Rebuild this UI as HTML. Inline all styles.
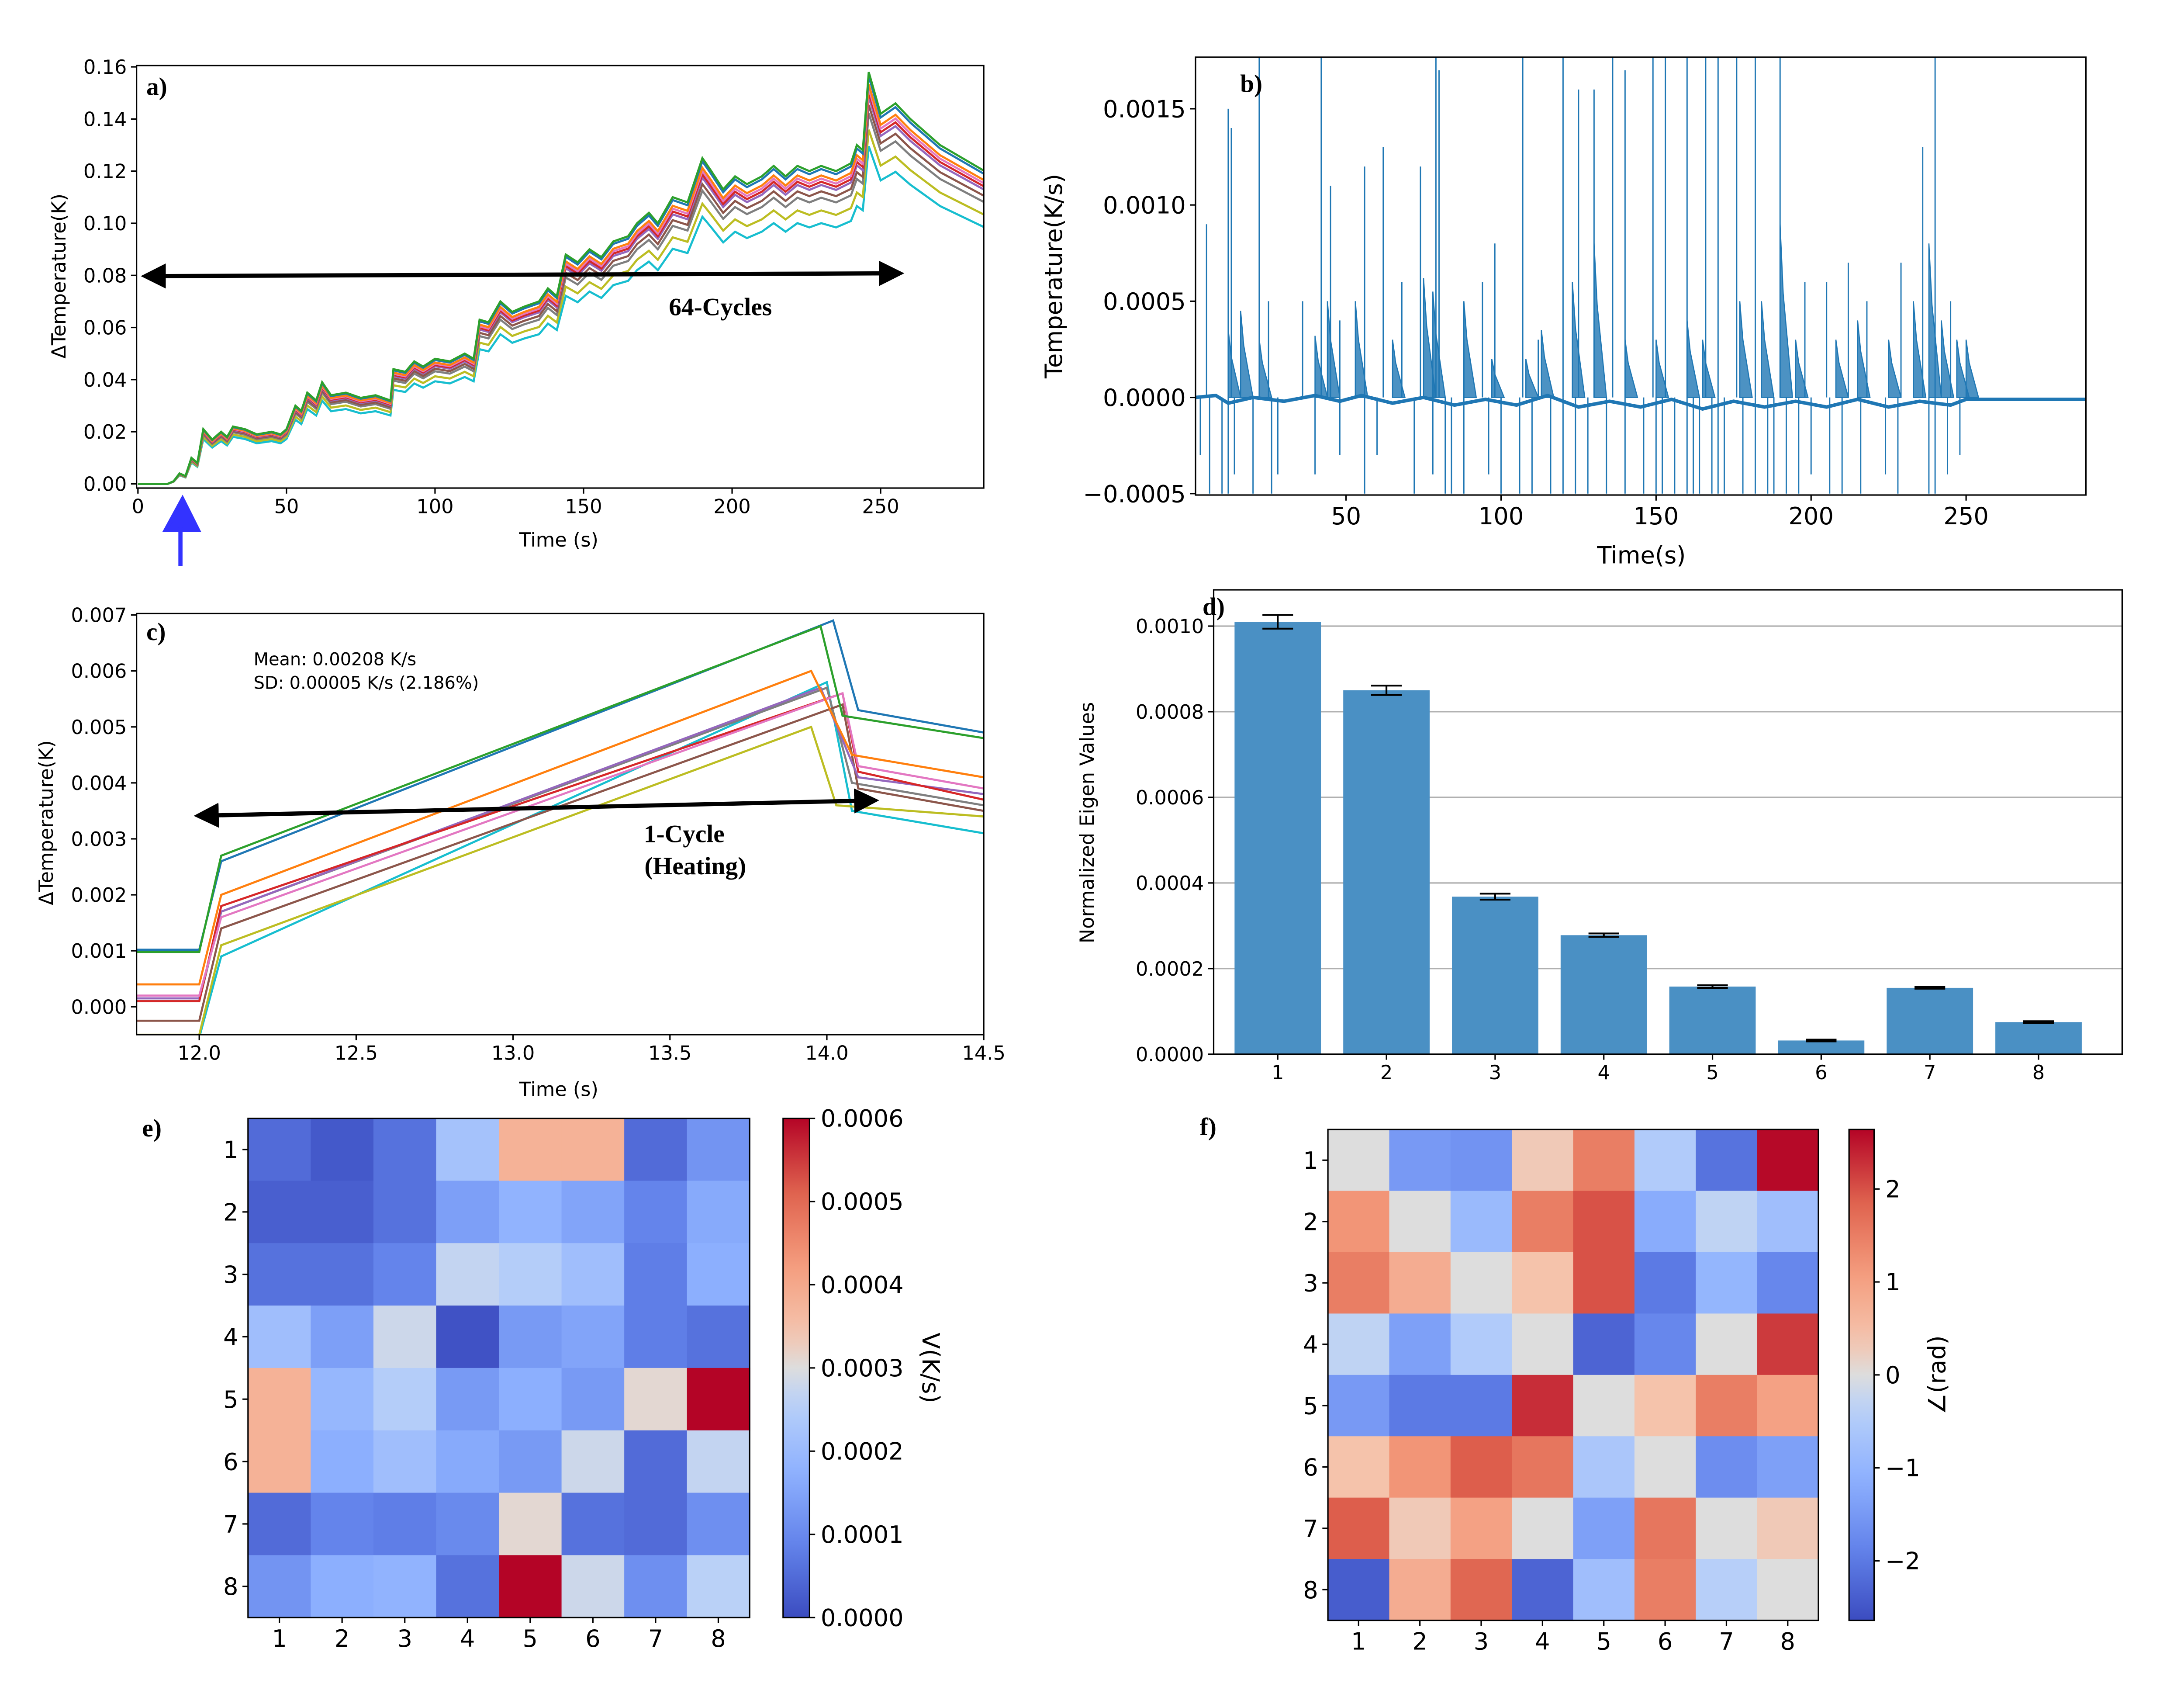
<!DOCTYPE html>
<html><head><meta charset="utf-8"><style>
html,body{margin:0;padding:0;background:#fff;}
svg{display:block;}
text{font-family:"DejaVu Sans","Liberation Sans",sans-serif;fill:#000;}
.serif{font-family:"Liberation Serif",serif;font-weight:bold;}
</style></head><body>
<svg id="chart" xmlns="http://www.w3.org/2000/svg" width="5120" height="3900" viewBox="0 0 1605 1222" preserveAspectRatio="none">
<defs>
<clipPath id="clipA"><rect x="98" y="47" width="608" height="303"/></clipPath>
<clipPath id="clipB"><rect x="858" y="41" width="639" height="314"/></clipPath>
<clipPath id="clipC"><rect x="98" y="440" width="608" height="302"/></clipPath>
<marker id="ah" markerWidth="6" markerHeight="6" refX="5" refY="3" orient="auto" markerUnits="strokeWidth"><path d="M0,0 L6,3 L0,6 z" fill="#000"/></marker>
<marker id="ahs" markerWidth="6" markerHeight="6" refX="1" refY="3" orient="auto" markerUnits="strokeWidth"><path d="M6,0 L0,3 L6,6 z" fill="#000"/></marker>
</defs>
</svg>
<script>
// ---------- DATA ----------
const aTimes=[0,10,12,14,16,18,20,22,25,28,30,32,36,40,45,48,50,53,55,57,60,62,65,70,75,80,85,86,90,93,96,100,105,110,113,115,118,122,126,130,135,138,141,144,148,152,156,160,165,168,172,175,180,185,190,193,197,201,205,210,214,218,222,226,230,235,240,242,244,246,250,255,260,270,285];
const aBase=[0,0,0.001,0.004,0.003,0.01,0.008,0.021,0.017,0.02,0.018,0.022,0.021,0.019,0.02,0.019,0.021,0.03,0.028,0.035,0.032,0.039,0.034,0.035,0.033,0.034,0.032,0.044,0.043,0.047,0.045,0.048,0.047,0.05,0.048,0.063,0.062,0.07,0.066,0.068,0.07,0.075,0.072,0.088,0.085,0.09,0.087,0.093,0.095,0.1,0.104,0.1,0.11,0.108,0.125,0.12,0.113,0.118,0.115,0.118,0.122,0.118,0.122,0.12,0.122,0.12,0.123,0.13,0.128,0.158,0.142,0.146,0.14,0.13,0.12];
const aScale=[0.99,0.97,1.0,0.95,0.94,0.92,0.96,0.9,0.86,0.82];
const seriesColors=["#1f77b4","#ff7f0e","#2ca02c","#d62728","#9467bd","#8c564b","#e377c2","#7f7f7f","#bcbd22","#17becf"];
const aXTicks=[0,50,100,150,200,250];
const aYTicks=[0,0.02,0.04,0.06,0.08,0.1,0.12,0.14,0.16];

const bBaseT=[1.5,8,12,20,30,40,48,55,65,75,85,95,105,115,125,135,145,155,165,175,185,195,205,215,225,235,245,250,260,288.6];
const bBaseV=[0,0.00001,-0.00003,0,-0.00002,0.00001,-0.00002,0.00001,-0.00003,0,-0.00004,-0.00001,-0.00004,0.00001,-0.00005,-0.00002,-0.00005,-0.00001,-0.00006,-0.00002,-0.00005,-0.00002,-0.00005,-0.00001,-0.00005,-0.00002,-0.00004,-0.00001,-0.00001,-0.00001];
const bumpT=[12,16,22,40,44,53,65,75,78,88,97,108,113,123,130,140,150,160,165,177,184,190,195,208,215,225,233,238,242,247,250];
const bumpH=[0.00035,0.00045,0.0003,0.00032,0.0005,0.0005,0.0003,0.00062,0.00055,0.0005,0.0002,0.0002,0.00035,0.0006,0.0008,0.0003,0.0003,0.0004,0.0003,0.0005,0.0005,0.0009,0.0003,0.0003,0.0004,0.0003,0.0005,0.0008,0.0004,0.0003,0.0003];
const spikeT=[5,12,13,22,25,36,42,45,48,56,62,68,74,79,80,88,94,98,107,112,120,125,130,136,140,149,153,160,166,170,176,182,190,198,205,212,218,229,236,240,245];
const spikeH=[0.0009,0.0015,0.0014,0.0018,0.0005,0.0005,0.0018,0.0011,0.0004,0.0012,0.0013,0.0006,0.0012,0.0018,0.0017,0.0003,0.0006,0.0008,0.0018,0.0003,0.0018,0.0016,0.0016,0.0018,0.0017,0.0018,0.0018,0.0018,0.0018,0.0018,0.0018,0.0018,0.0018,0.0006,0.0006,0.0007,0.0005,0.0007,0.0013,0.0018,0.0005];
const negT=[3,6,10,12,14,20,26,28,40,48,56,60,72,78,82,84,88,96,100,106,110,116,120,124,128,134,140,146,150,152,156,160,162,164,168,170,172,178,182,186,188,192,196,200,206,210,216,224,228,238,240,244,248];
const negV=[-0.0003,-0.0005,-0.0005,-0.0005,-0.0004,-0.0005,-0.0005,-0.0004,-0.0004,-0.0003,-0.0005,-0.0003,-0.0005,-0.0004,-0.0005,-0.0005,-0.0005,-0.0004,-0.0005,-0.0005,-0.0005,-0.0005,-0.0005,-0.0005,-0.0005,-0.0005,-0.0005,-0.0005,-0.0005,-0.0005,-0.0005,-0.0005,-0.0005,-0.0005,-0.0005,-0.0005,-0.0005,-0.0005,-0.0005,-0.0005,-0.0005,-0.0005,-0.0005,-0.0004,-0.0005,-0.0005,-0.0005,-0.0004,-0.0005,-0.0005,-0.0005,-0.0004,-0.0003];
const bXTicks=[50,100,150,200,250];
const bYTicks=[-0.0005,0,0.0005,0.001,0.0015];
const bYLabels=["\u22120.0005","0.0000","0.0005","0.0010","0.0015"];

const cPre=[0.00102,0.0004,0.00098,0.0001,0.00015,-0.00025,0.0002,0.0001,-0.0005,-0.00055];
const cStart=[0.0026,0.002,0.0027,0.0018,0.0017,0.0014,0.0016,0.0017,0.0011,0.0009];
const cPeak=[0.0069,0.006,0.0068,0.0056,0.0057,0.0054,0.0056,0.0057,0.005,0.0058];
const cPeakT=[14.02,13.95,13.98,14.05,13.98,14.05,14.05,14.0,13.95,14.0];
const cDrop=[0.0053,0.0045,0.0052,0.0042,0.0041,0.0039,0.0043,0.004,0.0036,0.0035];
const cDropT=[14.1,14.08,14.05,14.1,14.1,14.1,14.1,14.08,14.03,14.08];
const cEnd=[0.0049,0.0041,0.0048,0.0037,0.0038,0.0035,0.0039,0.0036,0.0034,0.0031];
const cXTicks=[12.0,12.5,13.0,13.5,14.0,14.5];
const cYTicks=[0,0.001,0.002,0.003,0.004,0.005,0.006,0.007];

const dCats=[1,2,3,4,5,6,7,8];
const dVals=[0.00101,0.00085,0.000368,0.000278,0.000158,0.000032,0.000155,0.000075];
const dErr=[0.000016,0.000011,0.000007,0.000004,0.000003,0.000002,0.000002,0.000002];
const dYTicks=[0,0.0002,0.0004,0.0006,0.0008,0.001];

const eVals=[
[0.00005,0.00002,0.00006,0.00022,0.00038,0.00038,0.00005,0.00012],
[0.00003,0.00003,0.00006,0.00014,0.00018,0.00015,0.00009,0.00016],
[0.00006,0.00006,0.00009,0.00027,0.00025,0.00021,0.00008,0.00017],
[0.00021,0.00014,0.00028,0.00001,0.00013,0.00015,0.00008,0.00006],
[0.00038,0.00019,0.00025,0.00013,0.00017,0.00013,0.00031,0.0006],
[0.00038,0.00017,0.00021,0.00016,0.00013,0.00028,0.00005,0.00027],
[0.00005,0.00009,0.00008,0.0001,0.00031,0.00006,0.00005,0.00011],
[0.00012,0.00017,0.00018,0.00006,0.0006,0.00028,0.00011,0.00026]];
const eTicks=[0,0.0001,0.0002,0.0003,0.0004,0.0005,0.0006];
const eLabels=["0.0000","0.0001","0.0002","0.0003","0.0004","0.0005","0.0006"];
const fVals=[
[0,-1.5,-1.6,0.3,1.5,-0.5,-2.1,2.6],
[1.2,0,-0.9,1.5,2.0,-1.2,-0.3,-0.8],
[1.5,0.8,0,0.4,2.0,-2.0,-1.0,-1.8],
[-0.3,-1.4,-0.5,0,-2.3,-1.8,0,2.2],
[-1.5,-2.0,-2.0,2.3,0,0.4,1.5,1.0],
[0.4,1.2,1.9,1.6,-0.6,0,-1.7,-1.4],
[1.9,0.3,1.0,0,-1.4,1.6,0,0.3],
[-2.4,0.8,1.8,-2.3,-0.8,1.5,-0.4,0]];
const fTicks=[-2,-1,0,1,2];
const fLabels=["\u22122","\u22121","0","1","2"];

// ---------- HELPERS ----------
const NS='http://www.w3.org/2000/svg';
const svg=document.getElementById('chart');
function mk(tag,attrs,parent){const e=document.createElementNS(NS,tag);for(const k in attrs)e.setAttribute(k,attrs[k]);(parent||svg).appendChild(e);return e;}
function txt(x,y,s,attrs,parent){const e=mk('text',Object.assign({x:x,y:y},attrs||{}),parent);e.textContent=s;return e;}
const cmStops=[[0,59,76,192],[0.143,98,130,234],[0.286,141,176,254],[0.429,184,208,249],[0.5,221,221,221],[0.571,245,196,173],[0.714,244,154,123],[0.857,222,96,77],[1,180,4,38]];
function cmap(t){t=Math.max(0,Math.min(1,t));for(let i=1;i<cmStops.length;i++){const a=cmStops[i-1],b=cmStops[i];if(t<=b[0]){const f=(t-a[0])/(b[0]-a[0]);return 'rgb('+[1,2,3].map(k=>Math.round(a[k]+f*(b[k]-a[k]))).join(',')+')';}}return 'rgb(180,4,38)';}
function frame(g,x0,y0,x1,y1,name){const r=mk('rect',{x:x0,y:y0,width:x1-x0,height:y1-y0,fill:'none',stroke:'#000','stroke-width':1},g);


return r;}
function xTick(g,x,y,label,fs,name){const l=mk('line',{x1:x,y1:y,x2:x,y2:y+4,stroke:'#000','stroke-width':1},g);


const t=txt(x,y+4+fs,label,{'font-size':fs,'text-anchor':'middle'},g);

}
function yTick(g,x,y,label,fs,name){const l=mk('line',{x1:x-4,y1:y,x2:x,y2:y,stroke:'#000','stroke-width':1},g);


const t=txt(x-7,y+fs*0.36,label,{'font-size':fs,'text-anchor':'end'},g);

}

// ---------- PANEL A ----------
(function(){
const g=mk('g',{});


const sx=t=>99+t*2.132, sy=v=>347-v*1869;
const lg=mk('g',{'clip-path':'url(#clipA)'},g);
const order=[9,8,7,5,4,3,6,1,0,2];
order.forEach(s=>{const pts=aTimes.map((t,i)=>sx(t).toFixed(2)+','+sy(aBase[i]*aScale[s]).toFixed(2)).join(' ');
const p=mk('polyline',{points:pts,fill:'none',stroke:seriesColors[s],'stroke-width':1.5},lg);

});
frame(g,98,47,706,350,'plot-area-a');
aXTicks.forEach(t=>xTick(g,sx(t),350,String(t),14,'x-tick-a-'+t));
aYTicks.forEach(v=>yTick(g,98,sy(v),v.toFixed(2),14,'y-tick-a-'+v));
let t=txt(401,392,'Time (s)',{'font-size':14,'text-anchor':'middle'},g);


t=txt(0,0,'\u0394Temperature(K)',{'font-size':14,'text-anchor':'middle',transform:'translate(47,198) rotate(-90)'},g);


const ar=mk('line',{x1:104,y1:198,x2:646,y2:196,stroke:'#000','stroke-width':3,'marker-end':'url(#ah)','marker-start':'url(#ahs)'},g);


t=txt(480,226,'64-Cycles',{'font-size':18,class:'serif'},g);


t=txt(105,68,'a)',{'font-size':18,class:'serif'},g);


const ba=mk('path',{d:'M129.5,406 L129.5,378 M119,380 L131,358 L142,380 Z',stroke:'#3333ff','stroke-width':3,fill:'#3333ff'},g);


})();

// ---------- PANEL B ----------
(function(){
const g=mk('g',{});


const sx=t=>966+(t-50)*2.225, sy=v=>285-v*138000;
const lg=mk('g',{'clip-path':'url(#clipB)'},g);
const col='#1f77b4';
bumpT.forEach((t,i)=>{const h=bumpH[i];
const p=mk('path',{d:'M'+sx(t)+','+sy(0)+' L'+sx(t)+','+sy(h)+' L'+sx(t+1)+','+sy(h*0.6)+' L'+sx(t+2.5)+','+sy(h*0.3)+' L'+sx(t+4)+','+sy(0)+' Z',fill:col,'fill-opacity':0.8,stroke:col,'stroke-width':0.8},lg);

});
const bl=mk('polyline',{points:bBaseT.map((t,i)=>sx(t)+','+sy(bBaseV[i])).join(' '),fill:'none',stroke:col,'stroke-width':2.5},lg);


spikeT.forEach((t,i)=>{const l=mk('line',{x1:sx(t),y1:sy(0),x2:sx(t),y2:sy(spikeH[i]),stroke:col,'stroke-width':0.9},lg);

});
negT.forEach((t,i)=>{const l=mk('line',{x1:sx(t),y1:sy(0),x2:sx(t),y2:sy(negV[i]),stroke:col,'stroke-width':0.9},lg);

});
frame(g,858,41,1497,355,'plot-area-b');
bXTicks.forEach(t=>xTick(g,sx(t),355,String(t),17,'x-tick-b-'+t));
bYTicks.forEach((v,i)=>yTick(g,858,sy(v),bYLabels[i],17,'y-tick-b-'+i));
let t=txt(1178,404,'Time(s)',{'font-size':17,'text-anchor':'middle'},g);


t=txt(0,0,'Temperature(K/s)',{'font-size':17,'text-anchor':'middle',transform:'translate(762,198) rotate(-90)'},g);


t=txt(890,66,'b)',{'font-size':18,class:'serif'},g);


})();

// ---------- PANEL C ----------
(function(){
const g=mk('g',{});


const sx=t=>143+(t-12)*225.2, sy=v=>722-v*40140;
const lg=mk('g',{'clip-path':'url(#clipC)'},g);
const order=[9,8,7,5,4,3,6,1,0,2];
order.forEach(s=>{const pts=[[11.8,cPre[s]],[12.0,cPre[s]],[12.07,cStart[s]],[cPeakT[s],cPeak[s]],[cDropT[s],cDrop[s]],[14.5,cEnd[s]]].map(p=>sx(p[0]).toFixed(2)+','+sy(p[1]).toFixed(2)).join(' ');
const p=mk('polyline',{points:pts,fill:'none',stroke:seriesColors[s],'stroke-width':1.5},lg);

});
frame(g,98,440,706,742,'plot-area-c');
cXTicks.forEach(t=>xTick(g,sx(t),742,t.toFixed(1),14,'x-tick-c-'+t));
cYTicks.forEach(v=>yTick(g,98,sy(v),v.toFixed(3),14,'y-tick-c-'+v));
let t=txt(401,786,'Time (s)',{'font-size':14,'text-anchor':'middle'},g);


t=txt(0,0,'\u0394Temperature(K)',{'font-size':14,'text-anchor':'middle',transform:'translate(38,590) rotate(-90)'},g);


t=txt(182,477,'Mean: 0.00208 K/s',{'font-size':12.5},g);


t=txt(182,494,'SD:      0.00005 K/s (2.186%)',{'font-size':12.5,'xml:space':'preserve'},g);


const ar=mk('line',{x1:142,y1:585,x2:628,y2:574,stroke:'#000','stroke-width':3,'marker-end':'url(#ah)','marker-start':'url(#ahs)'},g);


t=txt(491,604,'1-Cycle',{'font-size':18,'text-anchor':'middle',class:'serif'},g);


t=txt(499,627,'(Heating)',{'font-size':18,'text-anchor':'middle',class:'serif'},g);


t=txt(105,459,'c)',{'font-size':18,class:'serif'},g);


})();

// ---------- PANEL D ----------
(function(){
const g=mk('g',{});


const sx=c=>917+(c-1)*78, sy=v=>756-v*307000;
dYTicks.forEach(v=>{const l=mk('line',{x1:871,x2:1523,y1:sy(v),y2:sy(v),stroke:'#b0b0b0','stroke-width':1},g);

});
dCats.forEach((c,i)=>{const b=mk('rect',{x:sx(c)-31,y:sy(dVals[i]),width:62,height:sy(0)-sy(dVals[i]),fill:'#4a90c4'},g);


const e=mk('path',{d:'M'+sx(c)+','+sy(dVals[i]+dErr[i])+' V'+sy(dVals[i]-dErr[i])+' M'+(sx(c)-11)+','+sy(dVals[i]+dErr[i])+' h22 M'+(sx(c)-11)+','+sy(dVals[i]-dErr[i])+' h22',stroke:'#000','stroke-width':1.3,fill:'none'},g);

});
frame(g,871,423,1523,756,'plot-area-d');
dCats.forEach(c=>xTick(g,sx(c),756,String(c),14,'x-tick-d-'+c));
dYTicks.forEach(v=>yTick(g,871,sy(v),v.toFixed(4),14,'y-tick-d-'+v));
let t=txt(0,0,'Normalized Eigen Values',{'font-size':14,'text-anchor':'middle',transform:'translate(785,590) rotate(-90)'},g);


t=txt(863,441,'d)',{'font-size':18,class:'serif'},g);


})();

// ---------- HEATMAPS ----------
function heatmap(id,vals,x0,y0,cw,ch,vmin,vmax,cb,ticks,labels,title,titleX,titleRot,lab,labX,labY){
const g=mk('g',{});


vals.forEach((row,r)=>row.forEach((v,c)=>{const cell=mk('rect',{x:x0+c*cw,y:y0+r*ch,width:cw+0.5,height:ch+0.5,fill:cmap((v-vmin)/(vmax-vmin))},g);

}));
frame(g,x0,y0,x0+8*cw,y0+8*ch,'heatmap-frame-'+id);
for(let i=0;i<8;i++){xTick(g,x0+(i+0.5)*cw,y0+8*ch,String(i+1),17,'x-tick-'+id+'-'+(i+1));yTick(g,x0,y0+(i+0.5)*ch,String(i+1),17,'y-tick-'+id+'-'+(i+1));}
const gid='grad-'+id;
const gr=mk('linearGradient',{id:gid,x1:0,y1:1,x2:0,y2:0},svg.querySelector('defs'));
for(let k=0;k<=20;k++){mk('stop',{offset:k/20,'stop-color':cmap(k/20)},gr);}
const cbr=mk('rect',{x:cb[0],y:cb[1],width:cb[2]-cb[0],height:cb[3]-cb[1],fill:'url(#'+gid+')',stroke:'#000','stroke-width':1},g);


const cy=v=>cb[3]-(v-vmin)/(vmax-vmin)*(cb[3]-cb[1]);
ticks.forEach((v,i)=>{const l=mk('line',{x1:cb[2],x2:cb[2]+4,y1:cy(v),y2:cy(v),stroke:'#000'},g);


const t=txt(cb[2]+8,cy(v)+6,labels[i],{'font-size':17},g);

});
let t=txt(0,0,title,{'font-size':17,'text-anchor':'middle',transform:'translate('+titleX+','+((cb[1]+cb[3])/2)+') rotate('+titleRot+')'},g);


t=txt(labX,labY,lab,{'font-size':18,class:'serif'},g);


}
heatmap('e',eVals,178,802,45,44.75,0,0.0006,[562,802,581,1160],eTicks,eLabels,'V(K/s)',662,90,'e)',102,815);
heatmap('f',fVals,953,810,44,44,-2.64,2.64,[1327,810,1345,1162],fTicks,fLabels,'\u2220(rad)',1396,-90,'f)',861,814);
</script>
</body></html>
